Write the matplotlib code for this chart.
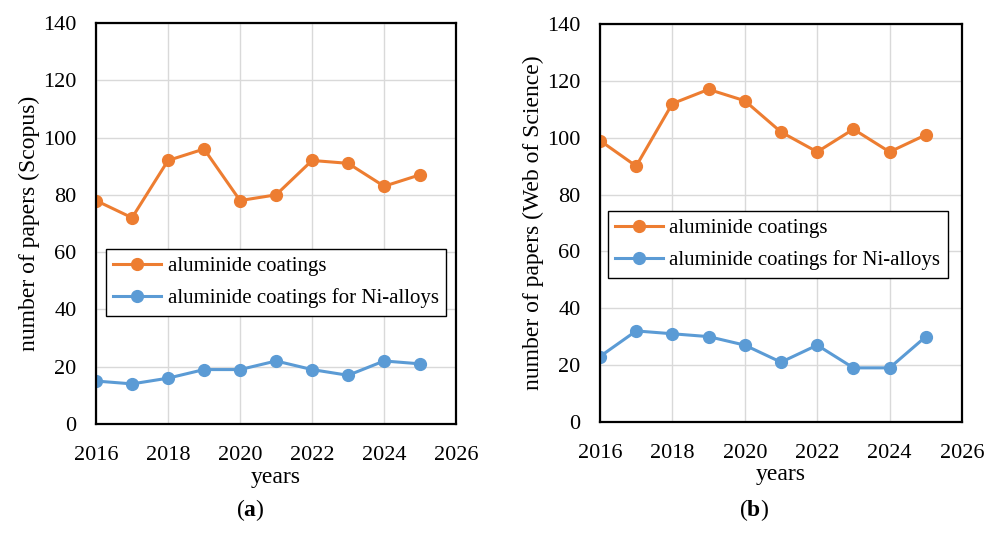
import numpy as np
import matplotlib.pyplot as plt

plt.rcParams['font.family'] = ['Liberation Serif', 'DejaVu Serif']
plt.rcParams['mathtext.fontset'] = 'custom'
plt.rcParams['mathtext.rm'] = 'Liberation Serif'
plt.rcParams['mathtext.bf'] = 'Liberation Serif:bold'

years = [2016, 2017, 2018, 2019, 2020, 2021, 2022, 2023, 2024, 2025]

# Scopus
scopus_all = [78, 72, 92, 96, 78, 80, 92, 91, 83, 87]
scopus_ni = [15, 14, 16, 19, 19, 22, 19, 17, 22, 21]

# Web of Science
wos_all = [99, 90, 112, 117, 113, 102, 95, 103, 95, 101]
wos_ni = [23, 32, 31, 30, 27, 21, 27, 19, 19, 30]

labels = ["aluminide coatings", "aluminide coatings for Ni-alloys"]
orange = "#ED7D31"
blue = "#5B9BD5"

fig = plt.figure(figsize=(9.92, 5.34), dpi=100)
ax1 = fig.add_axes([0.0968, 0.206, 0.363, 0.751])
ax2 = fig.add_axes([0.6048, 0.210, 0.365, 0.745])

def draw(ax, a, b, ylab, leg_anchor):
    ax.plot(years, a, color=orange, lw=2.2, marker='o', ms=8.5, label=labels[0])
    ax.plot(years, b, color=blue, lw=2.2, marker='o', ms=8.5, label=labels[1])
    ax.set_xlim(2016, 2026)
    ax.set_ylim(0, 140)
    ax.set_xticks(range(2016, 2027, 2))
    ax.set_yticks(range(0, 141, 20))
    ax.grid(True, color='#D9D9D9', lw=1)
    ax.set_axisbelow(True)
    ax.tick_params(length=0, labelsize=16)
    ax.tick_params(axis='y', pad=14)
    ax.tick_params(axis='x', pad=16)
    for s in ax.spines.values():
        s.set_linewidth(1.6)
        s.set_color('black')
    ax.set_ylabel(ylab, fontsize=17, labelpad=2)
    ax.set_xlabel("years", fontsize=17, labelpad=1)
    leg = ax.legend(loc='upper left', bbox_to_anchor=leg_anchor, fontsize=15,
                    frameon=True, fancybox=False, edgecolor='black',
                    borderaxespad=0, handlelength=2.3, handletextpad=0.3,
                    labelspacing=0.6, borderpad=0.35, framealpha=1)
    leg.get_frame().set_linewidth(1.0)

draw(ax1, scopus_all, scopus_ni, "number of papers (Scopus)", (0.028, 0.436))
draw(ax2, wos_all, wos_ni, "number of papers (Web of Science)", (0.022, 0.530))

fig.text(0.252, 0.045, r"($\mathbf{a}$)", fontsize=17, ha='center', va='center')
fig.text(0.760, 0.045, r"($\mathbf{b}$)", fontsize=17, ha='center', va='center')

fig.savefig("out.png", dpi=100)
